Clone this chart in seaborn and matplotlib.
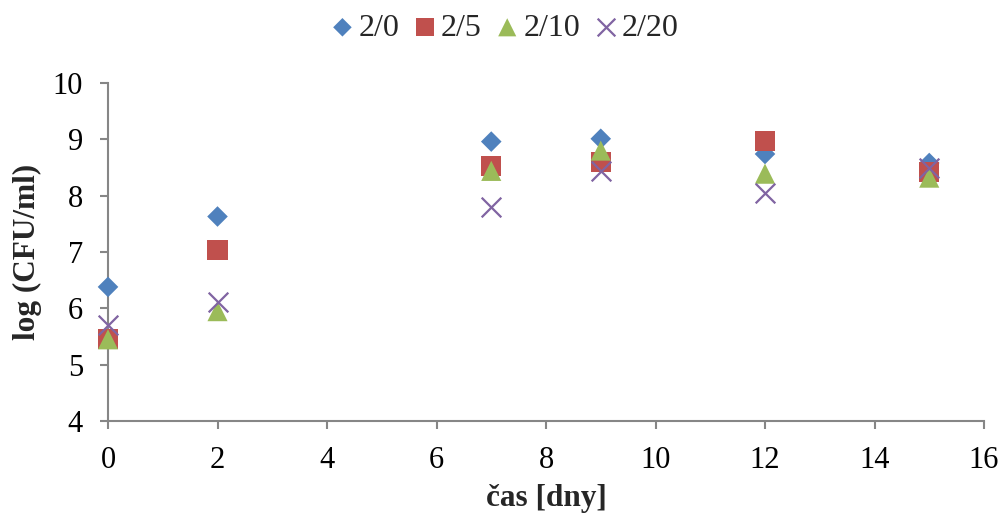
import matplotlib
matplotlib.use("Agg")
import matplotlib.pyplot as plt
import seaborn as sns
import pandas as pd

days = [0, 2, 7, 9, 12, 15]
s_2_0 = [6.38, 7.63, 8.96, 9.01, 8.74, 8.58]
s_2_5 = [5.45, 7.04, 8.53, 8.60, 8.97, 8.42]
s_2_10 = [5.45, 5.95, 8.44, 8.80, 8.39, 8.32]
s_2_20 = [5.70, 6.12, 7.79, 8.44, 8.05, 8.50]
series_names = ["2/0", "2/5", "2/10", "2/20"]

sns.set_theme(style="white")
plt.rcParams['font.family'] = ['Liberation Serif', 'DejaVu Serif']

rows = []
for name, vals in zip(series_names, [s_2_0, s_2_5, s_2_10, s_2_20]):
    for d, v in zip(days, vals):
        rows.append({"day": d, "val": v, "series": name})
df = pd.DataFrame(rows)

colors = {"2/0": "#4F81BD", "2/5": "#C0504D", "2/10": "#9BBB59", "2/20": "#8064A2"}
markers = {"2/0": "D", "2/5": "s", "2/10": "^", "2/20": "x"}
sizes = {"2/0": 110, "2/5": 210, "2/10": 210, "2/20": 200}

fig = plt.figure(figsize=(10.05, 5.22), dpi=100)
ax = fig.add_axes([108/1005, 1-421/522, (984-108)/1005, (421-83)/522])

for name in series_names:
    sub = df[df.series == name]
    kw = dict(color=colors[name], marker=markers[name], s=sizes[name], ax=ax,
              label=name, clip_on=False, zorder=3)
    if markers[name] == "x":
        kw["linewidth"] = 1.6
    else:
        kw["edgecolor"] = "none"
    sns.scatterplot(data=sub, x="day", y="val", **kw)

ax.set_xlim(0, 16)
ax.set_ylim(4, 10)
ax.set_xticks(range(0, 17, 2))
ax.set_yticks(range(4, 11))
for s in ["top", "right"]:
    ax.spines[s].set_visible(False)
for s in ["left", "bottom"]:
    ax.spines[s].set_color("#868686")
    ax.spines[s].set_linewidth(1.5)
ax.tick_params(axis="both", which="major", direction="out", length=6, width=1.5,
               color="#868686", labelsize=22, left=True, bottom=True, pad=12,
               labelcolor="black")
ax.set_xlabel("čas [dny]", fontsize=22.5, fontweight="bold")
ax.set_ylabel("log (CFU/ml)", fontsize=22.5, fontweight="bold")
ax.xaxis.set_label_coords(0.5, -(484-421)/338)
ax.yaxis.set_label_coords(-(108-42)/876, 0.5)
ax.grid(False)

handles, labels = ax.get_legend_handles_labels()
if ax.legend_:
    ax.legend_.remove()
fig.legend(handles, labels, loc="center", bbox_to_anchor=(504/1005, 1-28/522), ncol=4,
           frameon=False, fontsize=23, handletextpad=0.1, columnspacing=0.4,
           handlelength=0.8, markerscale=0.9, borderpad=0)

fig.savefig("out.png", dpi=100)
